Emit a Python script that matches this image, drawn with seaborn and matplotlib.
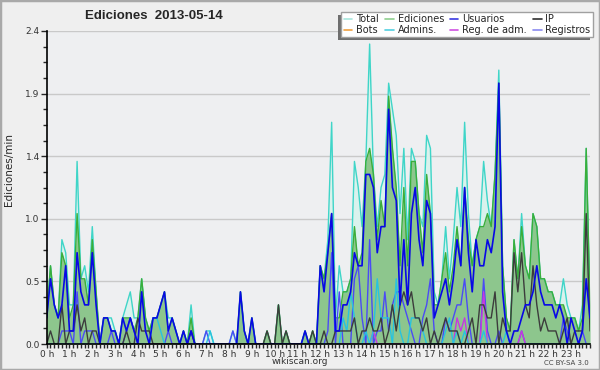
import numpy as np
import matplotlib
matplotlib.use("Agg")
import matplotlib.pyplot as plt
import seaborn as sns
from matplotlib.lines import Line2D
from matplotlib.patches import Rectangle
from matplotlib.ticker import MultipleLocator

# one value per 10 minutes, in edits per minute
hour_labels = [f"{h} h" for h in range(24)]
y_ticks = [0.0, 0.48, 0.96, 1.44, 1.92, 2.4]
y_tick_labels = ["0.0", "0.5", "1.0", "1.4", "1.9", "2.4"]

total = [
    0.2, 0.6, 0.3, 0.2, 0.8, 0.7,
    0.3, 0.3, 1.4, 0.5, 0.6, 0.4,
    0.9, 0.4, 0.0, 0.2, 0.2, 0.2,
    0.1, 0.0, 0.2, 0.3, 0.4, 0.2,
    0.2, 0.5, 0.2, 0.1, 0.2, 0.2,
    0.3, 0.4, 0.2, 0.2, 0.1, 0.0,
    0.1, 0.0, 0.3, 0.0, 0.0, 0.0,
    0.1, 0.1, 0.0, 0.0, 0.0, 0.0,
    0.0, 0.1, 0.0, 0.4, 0.1, 0.0,
    0.2, 0.0, 0.0, 0.0, 0.1, 0.0,
    0.0, 0.3, 0.0, 0.1, 0.0, 0.0,
    0.0, 0.0, 0.1, 0.0, 0.1, 0.0,
    0.6, 0.5, 0.8, 1.7, 0.2, 0.6,
    0.4, 0.4, 0.5, 1.4, 1.2, 0.9,
    1.4, 2.3, 1.3, 0.9, 1.2, 1.3,
    2.0, 1.8, 1.6, 1.0, 1.5, 0.8,
    1.5, 1.4, 1.0, 0.9, 1.6, 1.5,
    0.4, 0.3, 0.5, 0.9, 0.5, 0.8,
    1.2, 0.9, 1.7, 1.0, 0.6, 0.8,
    0.9, 1.4, 1.1, 0.9, 1.3, 2.1,
    0.6, 0.2, 0.1, 0.8, 0.5, 1.0,
    0.6, 0.5, 1.0, 0.9, 0.5, 0.5,
    0.4, 0.4, 0.3, 0.3, 0.5, 0.3,
    0.2, 0.2, 0.1, 0.3, 1.5, 0.3,
]
ediciones = [
    0.2, 0.6, 0.3, 0.2, 0.7, 0.6,
    0.2, 0.3, 1.0, 0.5, 0.5, 0.3,
    0.8, 0.4, 0.0, 0.2, 0.2, 0.1,
    0.1, 0.0, 0.2, 0.2, 0.2, 0.1,
    0.2, 0.5, 0.2, 0.1, 0.2, 0.2,
    0.3, 0.4, 0.1, 0.2, 0.1, 0.0,
    0.1, 0.0, 0.2, 0.0, 0.0, 0.0,
    0.0, 0.0, 0.0, 0.0, 0.0, 0.0,
    0.0, 0.0, 0.0, 0.4, 0.1, 0.0,
    0.2, 0.0, 0.0, 0.0, 0.1, 0.0,
    0.0, 0.3, 0.0, 0.1, 0.0, 0.0,
    0.0, 0.0, 0.1, 0.0, 0.1, 0.0,
    0.6, 0.5, 0.7, 1.0, 0.2, 0.2,
    0.4, 0.4, 0.5, 0.9, 0.6, 0.7,
    1.4, 1.5, 1.3, 0.8, 1.1, 0.9,
    1.9, 1.5, 1.2, 0.6, 1.2, 0.6,
    1.4, 1.4, 1.0, 0.7, 1.3, 1.0,
    0.3, 0.3, 0.5, 0.7, 0.4, 0.6,
    0.9, 0.6, 1.2, 0.8, 0.6, 0.8,
    0.9, 0.9, 1.0, 0.9, 1.3, 2.0,
    0.6, 0.2, 0.1, 0.8, 0.5, 0.9,
    0.6, 0.5, 1.0, 0.9, 0.5, 0.5,
    0.4, 0.4, 0.3, 0.3, 0.3, 0.2,
    0.2, 0.2, 0.1, 0.2, 1.5, 0.3,
]
usuarios = [
    0.2, 0.5, 0.3, 0.2, 0.3, 0.6,
    0.1, 0.1, 0.7, 0.4, 0.3, 0.3,
    0.7, 0.3, 0.0, 0.2, 0.2, 0.1,
    0.1, 0.0, 0.2, 0.1, 0.2, 0.1,
    0.0, 0.4, 0.1, 0.0, 0.2, 0.2,
    0.3, 0.4, 0.1, 0.2, 0.1, 0.0,
    0.1, 0.0, 0.1, 0.0, 0.0, 0.0,
    0.0, 0.0, 0.0, 0.0, 0.0, 0.0,
    0.0, 0.0, 0.0, 0.4, 0.1, 0.0,
    0.2, 0.0, 0.0, 0.0, 0.0, 0.0,
    0.0, 0.0, 0.0, 0.0, 0.0, 0.0,
    0.0, 0.0, 0.1, 0.0, 0.0, 0.0,
    0.6, 0.4, 0.7, 1.0, 0.1, 0.1,
    0.3, 0.3, 0.4, 0.7, 0.6, 0.6,
    1.3, 1.3, 1.2, 0.7, 0.9, 0.9,
    1.8, 1.2, 1.1, 0.3, 0.8, 0.3,
    1.0, 1.2, 0.8, 0.6, 1.1, 1.0,
    0.2, 0.3, 0.4, 0.5, 0.3, 0.5,
    0.8, 0.6, 1.2, 0.7, 0.4, 0.8,
    0.6, 0.6, 0.8, 0.7, 0.9, 2.0,
    0.4, 0.1, 0.0, 0.1, 0.1, 0.2,
    0.3, 0.3, 0.4, 0.6, 0.4, 0.3,
    0.3, 0.3, 0.2, 0.3, 0.2, 0.0,
    0.2, 0.1, 0.0, 0.1, 0.5, 0.2,
]
ip = [
    0.0, 0.1, 0.0, 0.0, 0.3, 0.0,
    0.1, 0.1, 0.3, 0.1, 0.2, 0.0,
    0.1, 0.1, 0.0, 0.0, 0.0, 0.0,
    0.0, 0.0, 0.0, 0.1, 0.0, 0.0,
    0.2, 0.1, 0.1, 0.1, 0.0, 0.0,
    0.0, 0.0, 0.0, 0.0, 0.0, 0.0,
    0.0, 0.0, 0.1, 0.0, 0.0, 0.0,
    0.0, 0.0, 0.0, 0.0, 0.0, 0.0,
    0.0, 0.0, 0.0, 0.0, 0.0, 0.0,
    0.0, 0.0, 0.0, 0.0, 0.1, 0.0,
    0.0, 0.3, 0.0, 0.1, 0.0, 0.0,
    0.0, 0.0, 0.0, 0.0, 0.1, 0.0,
    0.0, 0.1, 0.0, 0.0, 0.1, 0.1,
    0.1, 0.1, 0.1, 0.2, 0.0, 0.1,
    0.1, 0.2, 0.1, 0.1, 0.2, 0.0,
    0.1, 0.3, 0.1, 0.3, 0.4, 0.3,
    0.4, 0.2, 0.2, 0.1, 0.2, 0.0,
    0.1, 0.0, 0.1, 0.2, 0.1, 0.1,
    0.1, 0.0, 0.0, 0.1, 0.2, 0.0,
    0.3, 0.3, 0.2, 0.2, 0.4, 0.0,
    0.2, 0.1, 0.1, 0.7, 0.4, 0.7,
    0.3, 0.2, 0.6, 0.3, 0.1, 0.2,
    0.1, 0.1, 0.1, 0.0, 0.1, 0.2,
    0.0, 0.1, 0.1, 0.1, 1.0, 0.1,
]
bots = [
    0.0, 0.0, 0.0, 0.0, 0.0, 0.0,
    0.0, 0.0, 0.0, 0.0, 0.0, 0.0,
    0.0, 0.0, 0.0, 0.0, 0.0, 0.0,
    0.0, 0.0, 0.0, 0.0, 0.0, 0.0,
    0.0, 0.0, 0.0, 0.0, 0.0, 0.0,
    0.0, 0.0, 0.0, 0.0, 0.0, 0.0,
    0.0, 0.0, 0.0, 0.0, 0.0, 0.0,
    0.0, 0.0, 0.0, 0.0, 0.0, 0.0,
    0.0, 0.0, 0.0, 0.0, 0.0, 0.0,
    0.0, 0.0, 0.0, 0.0, 0.0, 0.0,
    0.0, 0.0, 0.0, 0.0, 0.0, 0.0,
    0.0, 0.0, 0.0, 0.0, 0.0, 0.0,
    0.0, 0.0, 0.0, 0.0, 0.0, 0.0,
    0.0, 0.0, 0.0, 0.0, 0.0, 0.0,
    0.0, 0.0, 0.0, 0.0, 0.0, 0.0,
    0.0, 0.0, 0.0, 0.0, 0.0, 0.0,
    0.0, 0.0, 0.0, 0.0, 0.0, 0.0,
    0.0, 0.0, 0.0, 0.0, 0.0, 0.0,
    0.0, 0.0, 0.0, 0.0, 0.0, 0.0,
    0.0, 0.0, 0.0, 0.0, 0.0, 0.0,
    0.0, 0.0, 0.0, 0.0, 0.0, 0.0,
    0.0, 0.0, 0.0, 0.0, 0.0, 0.0,
    0.0, 0.0, 0.0, 0.0, 0.0, 0.0,
    0.0, 0.0, 0.0, 0.0, 0.0, 0.0,
]
admins = [
    0.0, 0.0, 0.0, 0.0, 0.0, 0.0,
    0.0, 0.0, 0.0, 0.0, 0.0, 0.0,
    0.0, 0.0, 0.0, 0.0, 0.0, 0.0,
    0.0, 0.0, 0.0, 0.0, 0.0, 0.0,
    0.0, 0.0, 0.0, 0.0, 0.2, 0.2,
    0.1, 0.0, 0.0, 0.0, 0.0, 0.0,
    0.0, 0.0, 0.0, 0.0, 0.0, 0.0,
    0.0, 0.1, 0.0, 0.0, 0.0, 0.0,
    0.0, 0.0, 0.0, 0.0, 0.0, 0.0,
    0.0, 0.0, 0.0, 0.0, 0.0, 0.0,
    0.0, 0.0, 0.0, 0.0, 0.0, 0.0,
    0.0, 0.0, 0.0, 0.0, 0.0, 0.0,
    0.0, 0.0, 0.0, 0.0, 0.0, 0.0,
    0.2, 0.1, 0.4, 0.2, 0.0, 0.0,
    0.1, 0.0, 0.1, 0.5, 0.2, 0.2,
    0.2, 0.0, 0.5, 0.1, 0.0, 0.0,
    0.2, 0.2, 0.2, 0.1, 0.0, 0.0,
    0.0, 0.0, 0.0, 0.1, 0.2, 0.0,
    0.1, 0.0, 0.1, 0.0, 0.0, 0.0,
    0.0, 0.1, 0.0, 0.0, 0.0, 0.0,
    0.0, 0.1, 0.0, 0.0, 0.0, 0.0,
    0.0, 0.0, 0.0, 0.0, 0.0, 0.0,
    0.0, 0.0, 0.0, 0.0, 0.0, 0.0,
    0.0, 0.0, 0.0, 0.0, 0.0, 0.0,
]
reg_adm = [
    0.0, 0.0, 0.0, 0.0, 0.0, 0.0,
    0.0, 0.0, 0.0, 0.0, 0.0, 0.0,
    0.0, 0.0, 0.0, 0.0, 0.0, 0.0,
    0.0, 0.0, 0.0, 0.0, 0.0, 0.0,
    0.0, 0.0, 0.0, 0.0, 0.0, 0.0,
    0.0, 0.0, 0.0, 0.0, 0.0, 0.0,
    0.0, 0.0, 0.0, 0.0, 0.0, 0.0,
    0.0, 0.0, 0.0, 0.0, 0.0, 0.0,
    0.0, 0.0, 0.0, 0.0, 0.0, 0.0,
    0.0, 0.0, 0.0, 0.0, 0.0, 0.0,
    0.0, 0.0, 0.0, 0.0, 0.0, 0.0,
    0.0, 0.0, 0.0, 0.0, 0.0, 0.0,
    0.0, 0.0, 0.0, 0.0, 0.0, 0.0,
    0.0, 0.0, 0.0, 0.0, 0.0, 0.0,
    0.0, 0.0, 0.1, 0.0, 0.0, 0.0,
    0.0, 0.0, 0.0, 0.0, 0.0, 0.0,
    0.0, 0.0, 0.0, 0.0, 0.0, 0.0,
    0.0, 0.0, 0.0, 0.0, 0.0, 0.0,
    0.2, 0.1, 0.2, 0.0, 0.0, 0.0,
    0.0, 0.4, 0.0, 0.0, 0.0, 0.0,
    0.0, 0.0, 0.0, 0.0, 0.0, 0.1,
    0.0, 0.0, 0.0, 0.0, 0.0, 0.0,
    0.0, 0.0, 0.0, 0.0, 0.0, 0.0,
    0.0, 0.0, 0.0, 0.0, 0.0, 0.0,
]
registros = [
    0.0, 0.0, 0.0, 0.0, 0.1, 0.1,
    0.1, 0.0, 0.4, 0.0, 0.1, 0.1,
    0.1, 0.0, 0.0, 0.0, 0.0, 0.1,
    0.0, 0.0, 0.0, 0.1, 0.2, 0.1,
    0.0, 0.0, 0.0, 0.0, 0.0, 0.0,
    0.0, 0.0, 0.1, 0.0, 0.0, 0.0,
    0.0, 0.0, 0.1, 0.0, 0.0, 0.0,
    0.1, 0.0, 0.0, 0.0, 0.0, 0.0,
    0.0, 0.1, 0.0, 0.0, 0.0, 0.0,
    0.0, 0.0, 0.0, 0.0, 0.0, 0.0,
    0.0, 0.0, 0.0, 0.0, 0.0, 0.0,
    0.0, 0.0, 0.0, 0.0, 0.0, 0.0,
    0.0, 0.0, 0.1, 0.7, 0.0, 0.4,
    0.0, 0.0, 0.0, 0.5, 0.6, 0.2,
    0.0, 0.8, 0.0, 0.1, 0.1, 0.4,
    0.1, 0.3, 0.4, 0.4, 0.3, 0.2,
    0.1, 0.0, 0.0, 0.2, 0.3, 0.5,
    0.1, 0.0, 0.0, 0.2, 0.1, 0.2,
    0.3, 0.3, 0.5, 0.2, 0.0, 0.0,
    0.0, 0.5, 0.1, 0.0, 0.0, 0.1,
    0.0, 0.0, 0.0, 0.0, 0.0, 0.1,
    0.0, 0.0, 0.0, 0.0, 0.0, 0.0,
    0.0, 0.0, 0.0, 0.0, 0.2, 0.1,
    0.0, 0.0, 0.0, 0.1, 0.0, 0.0,
]

slots = np.arange(len(total))

sns.set_style("white")
plt.rcParams['font.family'] = ['DejaVu Sans']

fig = plt.figure(figsize=(6, 3.7), dpi=100, facecolor='#efefef')
ax = fig.add_axes([46.7 / 600, 1 - 344 / 370, (590 - 46.7) / 600, (344 - 31) / 370])
ax.set_facecolor('#eeeff1')

# filled areas first, then the lines on top
ax.fill_between(slots, total, color='#daf2ed', lw=0, zorder=1)
ax.fill_between(slots, ediciones, color='#8dc68d', lw=0, zorder=2)

series = [
    (total, '#3fd5c8', 1.0, 3),
    (ediciones, '#3aae3a', 1.0, 4),
    (bots, '#f0a040', 1.0, 5),
    (registros, '#4b4bf5', 1.0, 5),
    (reg_adm, '#c838e0', 1.0, 5),
    (admins, '#27c3e0', 1.0, 5),
    (ip, '#3c3c3c', 1.0, 6),
    (usuarios, '#0808e6', 1.2, 7),
]
for values, color, lw, z in series:
    sns.lineplot(x=slots, y=values, color=color, linewidth=lw, ax=ax, zorder=z)

ax.set_xlim(0, 143)
ax.set_ylim(0, 2.4)
ax.set_xlabel("")
ax.set_ylabel("")

ax.set_yticks(y_ticks)
ax.set_yticklabels(y_tick_labels)
ax.yaxis.set_minor_locator(MultipleLocator(0.12))
ax.set_xticks(np.arange(0, 144, 6))
ax.set_xticklabels(hour_labels)
ax.xaxis.set_minor_locator(MultipleLocator(1))

ax.yaxis.grid(True, color='#c9c9c9', lw=1)
ax.set_axisbelow(True)

ax.tick_params(axis='y', which='major', direction='out', length=4, width=1,
               labelsize=6.5, pad=1, labelcolor='#333333', left=True)
ax.tick_params(axis='y', which='minor', direction='out', length=3, width=1, left=True)
ax.tick_params(axis='x', which='both', direction='out', length=3, width=1,
               labelsize=6.5, pad=1, labelcolor='#333333', bottom=True)

for side in ['top', 'right']:
    ax.spines[side].set_visible(False)
for side in ['left', 'bottom']:
    ax.spines[side].set_color('black')
    ax.spines[side].set_linewidth(1.2)
    ax.spines[side].set_zorder(20)

fig.text(154 / 600, 1 - 16 / 370, "Ediciones  2013-05-14", ha='center', va='center',
         fontsize=9.5, fontweight='bold', family='Liberation Sans')
fig.text(9 / 600, 1 - 170 / 370, "Ediciones/min", rotation=90, ha='center', va='center',
         fontsize=7.5)
fig.text(300 / 600, 1 - 362 / 370, "wikiscan.org", ha='center', va='center',
         fontsize=6.5, color='#333333')
fig.text(589 / 600, 1 - 363 / 370, "CC BY-SA 3.0", ha='right', va='center',
         fontsize=5, color='#444444')

legend_items = [
    ("Total", '#a8e6dd'), ("Bots", '#f0a040'),
    ("Ediciones", '#8fd08f'), ("Admins.", '#52cfe0'),
    ("Usuarios", '#3a3ae2'), ("Reg. de adm.", '#d050e2'),
    ("IP", '#303030'), ("Registros", '#8a8af0'),
]
handles = [Line2D([], [], color=c, lw=1.2) for _, c in legend_items]
labels = [t for t, _ in legend_items]
leg = fig.legend(handles, labels, ncol=4, loc='upper right',
                 bbox_to_anchor=(593 / 600, 1 - 12 / 370),
                 fontsize=7, frameon=True, fancybox=False, framealpha=1,
                 edgecolor='#a0a0a0', facecolor='white',
                 handlelength=0.9, handletextpad=0.4, columnspacing=0.6,
                 labelspacing=0.05, borderpad=0.25, borderaxespad=0)
leg.set_zorder(10)

# flat shadow to the lower left of the legend box
fig.canvas.draw()
bb = leg.get_window_extent()
W, H = fig.bbox.width, fig.bbox.height
fig.patches.append(Rectangle(((bb.x0 - 3) / W, (bb.y0 - 3) / H), bb.width / W, bb.height / H,
                             transform=fig.transFigure, facecolor='#6e6e6e',
                             edgecolor='none', zorder=9))

fig.patches.append(Rectangle((0, 0), 1, 1, transform=fig.transFigure, fill=False,
                             edgecolor='#a9a9a9', lw=2.5))

fig.savefig("out.png", dpi=100, facecolor=fig.get_facecolor())
